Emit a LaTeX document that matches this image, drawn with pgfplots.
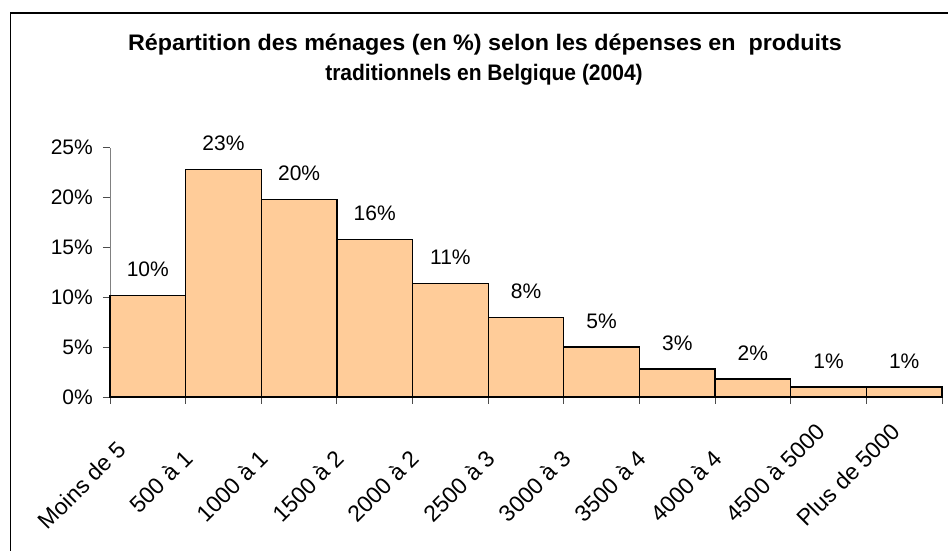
\documentclass[border=0pt]{standalone}
\usepackage{pgfplots}
\pgfplotsset{compat=1.18}
\usepackage{pgfplotstable}
\usepackage{fontspec}
\setmainfont{Liberation Sans}
\definecolor{barfill}{HTML}{FFCC99}
\pgfplotstableread{
x y lab
0.5 10.2 10
1.5 22.8 23
2.5 19.8 20
3.5 15.8 16
4.5 11.4 11
5.5 8.0 8
6.5 5.0 5
7.5 2.8 3
8.5 1.8 2
9.5 1.0 1
10.5 1.0 1
}\datatable
\newcommand{\lblfont}{\fontsize{21}{25}\selectfont}
\newcommand{\xlblfont}{\fontsize{23}{27}\selectfont}
\begin{document}
\begin{tikzpicture}
\useasboundingbox (0,0) rectangle (948pt,551pt);
\draw[line width=1.6pt] (10.5pt,-10pt) -- (10.5pt,537.7pt) -- (960pt,537.7pt);
\node[font=\fontsize{21}{25}\selectfont\bfseries, anchor=base, inner sep=0pt] at (485pt,500pt) {\scalebox{1.11}[1.07]{Répartition des ménages (en \%) selon les dépenses en\ \ produits}};
\node[font=\fontsize{21}{25}\selectfont\bfseries, anchor=base, inner sep=0pt] at (484pt,470pt) {\scalebox{1}[1.07]{traditionnels en Belgique (2004)}};
\begin{axis}[
  at={(110pt,154pt)}, anchor=south west,
  scale only axis, width=832pt, height=249.3pt,
  xmin=0, xmax=11, ymin=0, ymax=25,
  clip=false,
  ybar, bar width=1,
  axis x line*=bottom, axis y line*=left,
  axis line style={gray, line width=0.9pt},
  xtick={0,...,11},
  x tick label as interval,
  xticklabels={Moins de 5\phantom{00}, 500 à 1\phantom{000}, 1000 à 1\phantom{500}, 1500 à 2\phantom{000}, 2000 à 2\phantom{500}, 2500 à 3\phantom{000}, 3000 à 3\phantom{500}, 3500 à 4\phantom{000}, 4000 à 4\phantom{500}, 4500 à 5000, Plus de 5000},
  xticklabel style={font=\xlblfont, inner sep=0pt, yshift=-23pt, xshift=-8pt, rotate=45, anchor=east},
  ytick={0,5,...,25},
  yticklabel={\pgfmathprintnumber{\tick}\%},
  yticklabel style={font=\lblfont, inner sep=0pt, xshift=-10pt},
  /pgf/number format/assume math mode=true,
  tick align=outside,
  major tick length=7pt,
  tick style={gray!60!black, line width=0.9pt},
  point meta=explicit,
  nodes near coords={\pgfmathprintnumber{\pgfplotspointmeta}\%},
  every node near coord/.append style={font=\lblfont, anchor=base, yshift=19pt, inner sep=0pt, text=black},
]
\addplot[fill=barfill, draw=black, line width=1.3pt] table[x=x, y=y, meta=lab] {\datatable};
\end{axis}
\end{tikzpicture}
\end{document}
